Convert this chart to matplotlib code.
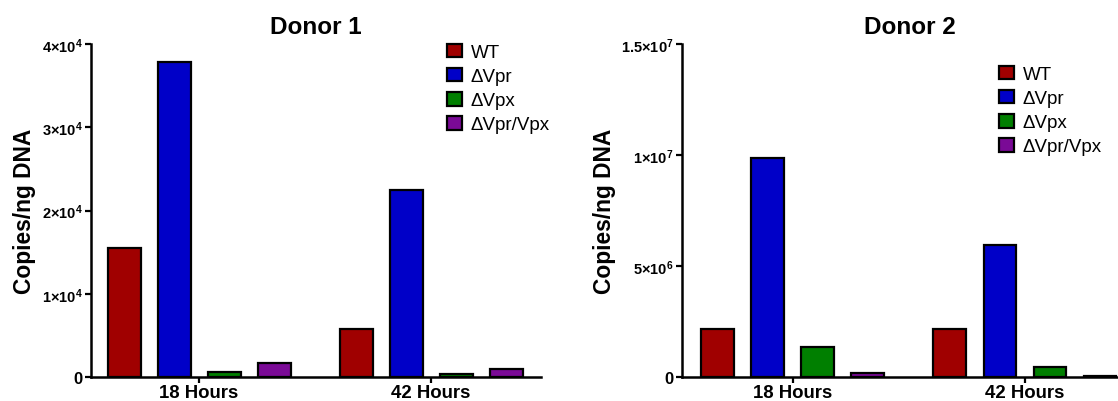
import numpy as np
import matplotlib
matplotlib.use("Agg")
import matplotlib.pyplot as plt

plt.rcParams["font.family"] = ["Liberation Sans", "DejaVu Sans"]
plt.rcParams["mathtext.fontset"] = "custom"
plt.rcParams["mathtext.bf"] = "Liberation Sans:bold"
plt.rcParams["mathtext.rm"] = "Liberation Sans"
plt.rcParams["mathtext.default"] = "bf"

# data
timepoints = ["18 Hours", "42 Hours"]
strains = ["WT", "ΔVpr", "ΔVpx", "ΔVpr/Vpx"]
colors = ["#A00000", "#0000C8", "#007F00", "#7A0A96"]

donor1 = {
    "WT": [15550, 5730],
    "ΔVpr": [37800, 22500],
    "ΔVpx": [640, 400],
    "ΔVpr/Vpx": [1720, 920],
}
donor2 = {
    "WT": [2.15e6, 2.18e6],
    "ΔVpr": [9.85e6, 5.95e6],
    "ΔVpx": [1.37e6, 0.45e6],
    "ΔVpr/Vpx": [0.2e6, 0.03e6],
}

donor1_ticks = [0, 1e4, 2e4, 3e4, 4e4]
donor1_ticklabels = ["0", r"$1{\times}10^{4}$", r"$2{\times}10^{4}$",
                     r"$3{\times}10^{4}$", r"$4{\times}10^{4}$"]
donor2_ticks = [0, 5e6, 1e7, 1.5e7]
donor2_ticklabels = ["0", r"$5{\times}10^{6}$", r"$1{\times}10^{7}$",
                     r"$1.5{\times}10^{7}$"]

W, H = 1118, 402
fig = plt.figure(figsize=(W / 100, H / 100), dpi=100)


def px_axes(x0, x1, y0, y1):
    return fig.add_axes([x0 / W, 1 - y1 / H, (x1 - x0) / W, (y1 - y0) / H])


def draw_panel(ax, data, title, ticks, ticklabels, xlim, legend_anchor):
    x = np.arange(len(timepoints))
    pitch, width = 0.2155, 0.142
    for i, (name, col) in enumerate(zip(strains, colors)):
        ax.bar(x + (i - 1.5) * pitch, data[name], width, color=col,
               edgecolor="black", linewidth=1.6, label=name, zorder=3)
    ax.set_xlim(*xlim)
    ax.set_ylim(0, ticks[-1])
    ax.set_xticks(x)
    ax.set_xticklabels(timepoints, fontsize=13.4, fontweight="bold")
    ax.set_yticks(ticks)
    ax.set_yticklabels(ticklabels, fontsize=10.5, fontweight="bold")
    ax.get_yticklabels()[0].set_fontsize(12)
    for s in ["top", "right"]:
        ax.spines[s].set_visible(False)
    for s in ["left", "bottom"]:
        ax.spines[s].set_linewidth(1.8)
    ax.tick_params(direction="out", length=4, width=1.6, pad=2)
    ax.tick_params(axis="x", pad=1)
    ax.set_ylabel("Copies/ng DNA", fontsize=16.4, fontweight="bold", labelpad=4)
    ax.set_title(title, fontsize=17.5, fontweight="bold", pad=8)
    ax.legend(loc="upper left", bbox_to_anchor=legend_anchor,
              bbox_transform=fig.transFigure, frameon=False, fontsize=13.5,
              handlelength=0.8, handleheight=0.75, handletextpad=0.48,
              labelspacing=0.36, borderaxespad=0)


ax1 = px_axes(91, 541, 45, 378)
draw_panel(ax1, donor1, "Donor 1", donor1_ticks, donor1_ticklabels,
           (-0.466, 1.474), (439 / W, 1 - 37 / H))

ax2 = px_axes(682, 1138, 45, 378)
draw_panel(ax2, donor2, "Donor 2", donor2_ticks, donor2_ticklabels,
           (-0.478, 1.487), (991 / W, 1 - 59 / H))

fig.savefig("out.png", dpi=100)
